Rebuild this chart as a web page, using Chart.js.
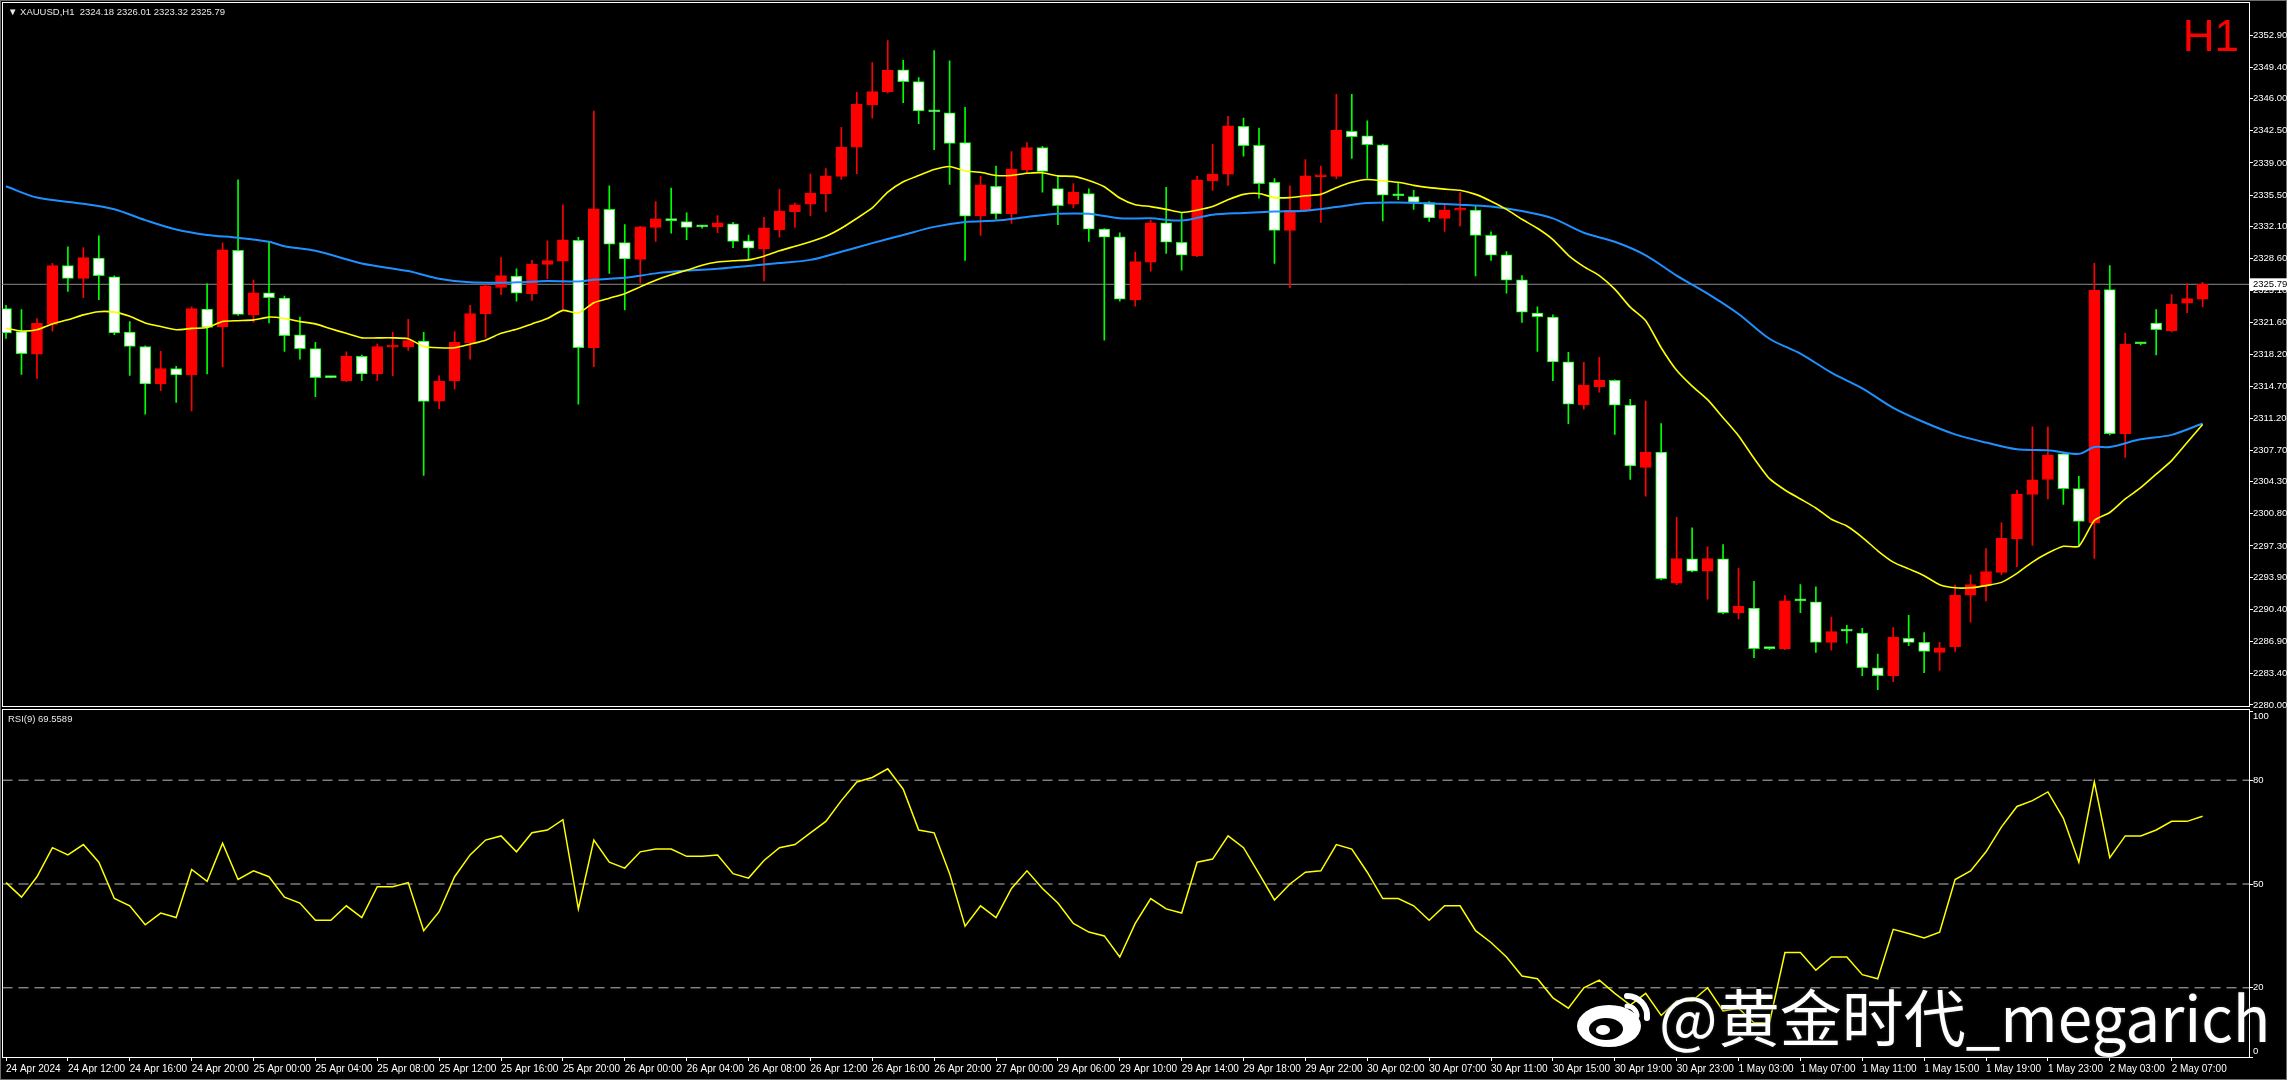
<!DOCTYPE html>
<html>
<head>
<meta charset="utf-8">
<script src="https://cdn.jsdelivr.net/npm/chart.js@4.4.1/dist/chart.umd.min.js"></script>
<style>
  html, body { margin: 0; padding: 0; background: #000; }
  body { width: 2287px; height: 1080px; position: relative; overflow: hidden; font-family: "Liberation Sans", Arial, sans-serif; }
  .box { position: absolute; }
  .frame { position: absolute; border: 1px solid #fff; box-sizing: border-box; pointer-events: none; }
  #hdr { position: absolute; left: 8px; top: 6px; color: #e8e8e8; font-size: 9.5px; white-space: pre; }
  #rsiLbl { position: absolute; left: 8px; top: 713px; color: #e8e8e8; font-size: 9.5px; white-space: pre; }
  #tf { position: absolute; right: 48px; top: 14px; color: #ff0000; font-size: 44px; line-height: 44px; }
  #wm { position: absolute; left: 1575px; top: 975px; color: #fff; font-family: "Noto Sans CJK SC", sans-serif; font-size: 62px; line-height: 80px; white-space: nowrap; text-shadow: 0 0 3px #333; }
  #wm svg { vertical-align: -6px; margin-right: 6px; }
</style>
</head>
<body>
<div class="frame" style="left:0;top:0;width:2287px;height:1080px;border-color:#6e6e6e;"></div>
<div class="frame" style="left:2px;top:2px;width:2248px;height:705px;"></div>
<div class="frame" style="left:2px;top:709px;width:2248px;height:349px;"></div>
<div class="box" style="left:0;top:0;width:2287px;height:712px;"><canvas id="mainChart"></canvas></div>
<div class="box" style="left:0;top:700px;width:2287px;height:380px;"><canvas id="rsiChart"></canvas></div>
<div id="hdr">▼ XAUUSD,H1  2324.18 2326.01 2323.32 2325.79</div>
<div id="rsiLbl">RSI(9) 69.5589</div>
<div id="tf">H1</div>
<div id="wm"><svg width="78" height="58" viewBox="0 0 78 58">
  <ellipse cx="34" cy="36" rx="32" ry="21" fill="#fff"/>
  <ellipse cx="31" cy="39" rx="17" ry="11" fill="#000"/>
  <ellipse cx="28" cy="40" rx="7" ry="5" fill="#fff"/>
  <path d="M52 6 A20 20 0 0 1 72 28" stroke="#fff" stroke-width="6" fill="none" stroke-linecap="round"/>
  <path d="M52 16 A10 10 0 0 1 62 26" stroke="#fff" stroke-width="5" fill="none" stroke-linecap="round"/>
</svg>@黄金时代_megarich</div>

<script>
// XAUUSD H1, 24 Apr 08:00 .. 2 May 09:00 (143 bars)
const opens = [2323.15,2320.65,2318.19,2321.43,2327.82,2326.44,2328.65,2326.59,2320.60,2319.02,2314.95,2316.62,2315.93,2323.10,2321.14,2329.48,2322.46,2324.87,2324.28,2320.30,
  2318.78,2315.63,2315.29,2317.94,2316.03,2318.95,2318.97,2319.61,2313.08,2315.29,2319.42,2322.56,2325.46,2326.69,2324.77,2327.96,2328.31,2330.57,2318.88,2333.95,
  2330.32,2328.50,2331.99,2332.73,2332.63,2332.04,2332.04,2332.38,2330.52,2329.68,2331.75,2333.71,2334.50,2335.67,2337.54,2340.73,2345.35,2346.72,2349.13,2347.85,
  2344.56,2344.47,2341.22,2333.27,2336.46,2333.46,2338.23,2340.68,2336.21,2334.50,2335.67,2331.79,2330.96,2324.08,2328.21,2332.48,2330.37,2328.90,2337.05,2337.79,
  2342.99,2340.93,2336.90,2331.65,2333.76,2337.50,2337.54,2342.45,2341.96,2340.98,2335.43,2335.33,2334.69,2332.97,2333.85,2333.86,2331.11,2329.00,2326.29,2322.66,
  2322.22,2317.35,2312.69,2314.65,2315.34,2312.64,2305.86,2307.53,2293.24,2295.89,2294.56,2295.89,2290.05,2290.54,2286.12,2286.12,2291.32,2291.22,2286.80,2288.03,
  2287.83,2284.05,2283.17,2287.25,2286.80,2285.72,2286.31,2291.96,2292.99,2294.42,2298.10,2302.91,2304.54,2307.33,2303.55,2299.82,2325.21,2309.54,2319.32,2321.58,
  2320.74,2323.74,2324.18];
const highs = [2323.50,2323.05,2322.07,2328.06,2329.88,2329.78,2331.06,2326.70,2321.73,2319.10,2318.48,2316.86,2323.35,2325.85,2330.27,2337.15,2326.24,2330.37,2324.52,2322.22,
  2319.47,2315.70,2318.43,2318.09,2319.27,2320.55,2321.97,2320.55,2315.83,2320.65,2323.49,2325.75,2328.70,2327.47,2328.41,2330.52,2334.45,2330.91,2344.66,2336.51,
  2332.29,2332.10,2334.79,2336.26,2333.56,2332.20,2333.27,2332.53,2331.16,2333.07,2336.12,2334.64,2337.79,2338.38,2342.89,2346.68,2349.92,2352.32,2350.16,2348.30,
  2351.24,2350.11,2345.06,2337.54,2338.67,2340.24,2341.22,2340.80,2337.64,2336.75,2336.17,2331.85,2331.40,2329.29,2332.78,2336.36,2333.61,2337.54,2341.03,2344.07,
  2343.88,2342.80,2337.30,2336.51,2339.36,2338.67,2346.48,2346.48,2343.58,2341.05,2336.80,2336.02,2334.80,2334.45,2335.77,2334.35,2331.50,2329.34,2326.74,2323.35,
  2322.46,2318.38,2317.30,2317.84,2315.40,2313.28,2313.08,2310.63,2300.41,2299.28,2297.22,2297.46,2294.86,2293.44,2286.20,2291.91,2293.09,2292.85,2289.55,2288.67,
  2288.33,2285.53,2288.43,2289.75,2287.88,2286.80,2293.04,2294.17,2297.02,2299.82,2303.40,2310.28,2310.28,2307.40,2304.88,2328.06,2327.82,2320.45,2319.40,2323.05,
  2324.67,2325.85,2326.01];
const lows = [2319.90,2315.98,2315.54,2320.69,2325.02,2324.33,2324.13,2320.30,2315.88,2311.66,2314.21,2312.93,2312.00,2316.03,2316.81,2322.40,2321.68,2321.58,2318.48,2317.65,
  2313.57,2315.60,2315.20,2315.29,2315.29,2315.83,2318.58,2304.98,2312.25,2314.41,2317.65,2320.01,2324.67,2323.94,2324.03,2326.39,2323.05,2312.74,2316.81,2326.98,
  2323.00,2325.95,2330.47,2331.35,2330.66,2331.90,2331.40,2329.78,2328.45,2326.15,2330.91,2331.99,2333.27,2333.71,2337.20,2337.84,2343.88,2346.63,2345.55,2343.29,
  2340.44,2336.66,2328.40,2331.11,2332.87,2332.43,2337.89,2335.82,2332.29,2334.10,2330.47,2319.71,2323.94,2323.40,2327.23,2329.14,2327.32,2328.80,2336.02,2336.56,
  2339.75,2335.18,2328.06,2325.41,2333.70,2332.53,2337.30,2339.50,2337.34,2332.68,2334.99,2333.95,2332.63,2331.55,2332.14,2326.69,2328.40,2324.82,2321.63,2318.48,
  2315.29,2310.63,2312.20,2314.06,2309.45,2304.54,2302.72,2293.60,2293.10,2294.47,2291.52,2289.90,2289.36,2285.14,2286.00,2286.00,2290.05,2285.72,2285.97,2286.71,
  2283.17,2281.65,2282.53,2286.46,2283.51,2283.76,2285.82,2289.01,2291.32,2294.17,2295.05,2297.36,2302.42,2301.83,2297.27,2295.94,2309.40,2306.94,2319.20,2318.09,
  2320.60,2322.71,2323.32];
const closes = [2320.50,2318.24,2321.53,2327.82,2326.44,2328.70,2326.74,2320.50,2319.02,2314.95,2316.62,2315.93,2323.15,2321.09,2329.53,2322.51,2324.87,2324.33,2320.20,2318.78,
  2315.63,2315.63,2317.94,2316.03,2319.02,2319.05,2319.66,2313.03,2315.24,2319.47,2322.61,2325.61,2326.74,2324.82,2327.96,2328.36,2330.62,2318.88,2334.00,2330.17,
  2328.55,2332.04,2332.92,2332.73,2331.99,2332.04,2332.48,2330.47,2329.73,2331.94,2333.76,2334.45,2335.72,2337.59,2340.73,2345.40,2346.77,2349.08,2347.85,2344.66,
  2344.56,2341.13,2333.22,2336.61,2333.46,2338.33,2340.68,2338.08,2334.35,2335.82,2331.79,2330.91,2324.18,2328.26,2332.48,2330.37,2328.95,2337.15,2337.79,2343.04,
  2340.88,2336.75,2331.65,2333.86,2337.59,2337.60,2342.55,2341.86,2340.98,2335.48,2335.43,2334.74,2333.02,2333.86,2333.95,2331.11,2328.95,2326.24,2322.76,2322.27,
  2317.35,2312.74,2314.80,2315.34,2312.64,2306.01,2307.53,2293.73,2295.94,2294.56,2295.94,2290.05,2290.73,2286.12,2286.12,2291.32,2291.32,2286.80,2287.98,2288.03,
  2284.05,2283.17,2287.39,2286.80,2285.82,2286.21,2291.96,2293.09,2294.51,2298.15,2302.96,2304.49,2307.19,2303.55,2299.97,2325.12,2309.54,2319.27,2319.32,2320.84,
  2323.64,2324.23,2325.79];

// yellow (fast) and blue (slow) moving averages as [bar, price]
const maFast = [[0,2321.00],[1,2320.70],[2,2320.84],[3,2321.48],[4,2321.92],[5,2322.46],[6,2322.81],[7,2322.76],[8,2322.31],[9,2321.58],[10,2321.19],[11,2320.84],
  [12,2320.99],[13,2321.09],[14,2321.73],[15,2321.83],[16,2321.92],[17,2322.22],[18,2322.07],[19,2321.73],[20,2321.48],[21,2320.94],[22,2320.45],[23,2319.96],
  [24,2319.96],[25,2319.96],[26,2319.86],[27,2319.02],[28,2318.88],[29,2318.88],[30,2319.27],[31,2319.71],[32,2320.45],[33,2320.89],[34,2321.48],[35,2322.07],
  [36,2322.95],[37,2322.66],[38,2323.79],[39,2324.28],[40,2324.77],[41,2325.51],[42,2326.24],[43,2326.83],[44,2327.32],[45,2327.86],[46,2328.21],[47,2328.36],
  [48,2328.45],[49,2328.85],[50,2329.44],[51,2329.93],[52,2330.42],[53,2331.01],[54,2331.89],[55,2332.97],[56,2334.10],[57,2335.82],[58,2336.95],[59,2337.64],
  [60,2338.28],[61,2338.62],[62,2338.13],[63,2337.98],[64,2337.64],[65,2337.64],[66,2337.88],[67,2337.93],[68,2337.59],[69,2337.54],[70,2337.10],[71,2336.41],
  [72,2335.18],[73,2334.45],[74,2334.25],[75,2333.95],[76,2333.61],[77,2333.86],[78,2334.25],[79,2334.99],[80,2335.58],[81,2335.67],[82,2335.23],[83,2335.23],
  [84,2335.43],[85,2335.58],[86,2336.31],[87,2336.90],[88,2337.20],[89,2337.05],[90,2336.90],[91,2336.56],[92,2336.31],[93,2336.15],[94,2336.02],[95,2335.58],
  [96,2334.84],[97,2333.95],[98,2332.87],[99,2331.89],[100,2330.66],[101,2328.95],[102,2327.72],[103,2326.74],[104,2325.26],[105,2323.30],[106,2321.83],[107,2318.88],
  [108,2316.42],[109,2314.70],[110,2313.23],[111,2311.27],[112,2309.30],[113,2306.85],[114,2304.63],[115,2303.40],[116,2302.42],[117,2301.44],[118,2300.21],[119,2299.48],
  [120,2298.25],[121,2296.78],[122,2295.55],[123,2294.81],[124,2294.07],[125,2293.09],[126,2292.75],[127,2292.75],[128,2292.99],[129,2293.34],[130,2294.32],[131,2295.55],
  [132,2296.53],[133,2297.27],[134,2297.27],[135,2300.07],[136,2300.95],[137,2302.42],[138,2303.65],[139,2305.12],[140,2306.60],[141,2308.56],[142,2310.53]];
const maSlow = [[0,2336.46],[2,2335.23],[5,2334.55],[7,2333.96],[9,2332.78],[11,2331.75],[13,2331.16],[15,2330.86],[17,2330.42],[18,2329.93],[20,2329.44],[23,2328.06],
  [26,2327.23],[28,2326.39],[30,2326.00],[33,2326.00],[35,2326.15],[37,2326.10],[38,2326.29],[40,2326.49],[42,2326.98],[44,2327.28],[46,2327.47],[48,2327.77],
  [50,2328.11],[52,2328.45],[54,2329.34],[56,2330.27],[58,2331.16],[60,2332.04],[62,2332.58],[64,2332.73],[66,2333.12],[68,2333.46],[70,2333.46],[72,2332.97],
  [74,2332.97],[76,2332.73],[78,2333.37],[80,2333.56],[82,2333.71],[84,2333.81],[86,2334.20],[88,2334.64],[90,2334.69],[92,2334.59],[94,2334.45],[96,2334.25],
  [98,2333.76],[100,2332.97],[102,2331.40],[104,2330.42],[106,2328.95],[108,2326.74],[110,2324.77],[112,2322.56],[114,2319.86],[116,2318.24],[118,2316.17],[120,2314.46],
  [122,2312.34],[124,2310.77],[126,2309.45],[128,2308.56],[130,2307.82],[132,2307.73],[134,2307.33],[135,2308.07],[136,2308.07],[138,2308.91],[140,2309.40],[142,2310.63]];

const rsiVals = [50.4,46.2,52.1,60.5,58.4,61.4,56.3,45.8,43.7,38.2,41.6,40.3,54.2,50.8,61.8,51.3,53.8,52.1,46.2,44.5,
  39.5,39.5,43.7,40.3,49.2,49.2,50.4,36.5,42.0,52.1,58.4,62.7,63.9,59.3,64.8,65.6,68.6,42.8,62.7,56.3,
  54.6,59.3,60.1,60.1,58.0,58.0,58.4,53.0,51.7,56.8,60.5,61.4,64.8,68.1,74.1,79.5,80.8,83.3,77.4,65.6,
  64.8,53.0,37.8,43.7,40.3,48.7,53.8,48.7,44.5,38.6,36.1,35.0,28.9,38.6,45.8,42.8,41.6,56.3,57.2,63.9,
  60.5,53.0,45.4,50.0,53.4,53.8,61.4,60.1,53.4,45.8,45.8,43.7,39.5,43.7,43.7,36.5,33.1,28.9,23.4,22.6,
  17.1,14.1,20.0,22.2,18.4,15.0,18.4,12.0,16.2,16.2,20.0,13.3,14.1,9.9,9.9,30.2,30.2,25.1,28.9,28.9,
  23.8,22.6,36.9,35.7,34.4,36.1,51.3,53.8,59.3,66.5,72.4,74.1,76.6,69.0,56.3,79.5,57.6,63.9,63.9,65.6,
  68.1,68.1,69.56];
const rsiLevels = [20, 50, 80];
const rsiTicks = [0, 20, 50, 80, 100];

const priceTicks = [2280.00,2283.40,2286.90,2290.40,2293.90,2297.30,2300.80,2304.30,2307.70,2311.20,2314.70,2318.20,2321.60,2325.10,
  2328.60,2332.10,2335.50,2339.00,2342.50,2346.00,2349.40,2352.90];
const timeLabels = ['24 Apr 2024','24 Apr 12:00','24 Apr 16:00','24 Apr 20:00','25 Apr 00:00','25 Apr 04:00','25 Apr 08:00','25 Apr 12:00',
  '25 Apr 16:00','25 Apr 20:00','26 Apr 00:00','26 Apr 04:00','26 Apr 08:00','26 Apr 12:00','26 Apr 16:00','26 Apr 20:00','27 Apr 00:00',
  '29 Apr 06:00','29 Apr 10:00','29 Apr 14:00','29 Apr 18:00','29 Apr 22:00','30 Apr 02:00','30 Apr 07:00','30 Apr 11:00','30 Apr 15:00',
  '30 Apr 19:00','30 Apr 23:00','1 May 03:00','1 May 07:00','1 May 11:00','1 May 15:00','1 May 19:00','1 May 23:00','2 May 03:00','2 May 07:00'];
const lastPrice = 2325.79;

const X_MIN = -0.26, X_MAX = 145.0;
const P_MIN = 2279.99, P_MAX = 2356.12;
const FONT = '"Liberation Sans", Arial, sans-serif';
const BULL = '#ff0000', BEAR = '#00ff00';

const isBull = i => closes[i] > opens[i];
const bars = closes.map((_, i) => i);

const rightAxis = (extra) => Object.assign({
  position: 'right',
  afterFit: s => { s.width = 38; },
  ticks: { color: '#fff', font: { size: 9.5, family: FONT }, padding: 0, autoSkip: false },
  grid: { drawOnChartArea: false, color: '#fff', tickLength: 4 },
  border: { display: true, color: '#fff' }
}, extra);

const priceTag = {
  id: 'priceTag',
  afterDraw(chart) {
    const y = chart.scales.y.getPixelForValue(lastPrice);
    const ctx = chart.ctx;
    ctx.save();
    ctx.fillStyle = '#fff';
    ctx.fillRect(chart.chartArea.right + 1, y - 6, 40, 12);
    ctx.fillStyle = '#000';
    ctx.font = '9.5px ' + FONT;
    ctx.textBaseline = 'middle';
    ctx.fillText(lastPrice.toFixed(2), chart.chartArea.right + 4, y + 0.5);
    ctx.restore();
  }
};

// MT4 keeps the 0 / 100 labels inside the panel
const edgeLabels = {
  id: 'edgeLabels',
  afterDraw(chart) {
    const s = chart.scales.y;
    const ctx = chart.ctx;
    ctx.save();
    ctx.fillStyle = '#fff';
    ctx.font = '9.5px ' + FONT;
    ctx.textBaseline = 'middle';
    ctx.fillText('100', s.left + 4, s.getPixelForValue(100) + 5);
    ctx.fillText('0', s.left + 4, s.getPixelForValue(0) - 6);
    ctx.restore();
  }
};

new Chart(document.getElementById('mainChart'), {
  data: {
    datasets: [
      {
        type: 'line', order: 6,
        data: [{ x: X_MIN - 1, y: lastPrice }, { x: X_MAX + 1, y: lastPrice }],
        borderColor: '#8a8a8a', borderWidth: 1, pointRadius: 0
      },
      {
        type: 'bar', order: 4, grouped: false,
        data: bars.map(i => ({ x: i, y: [lows[i], highs[i]] })),
        backgroundColor: bars.map(i => isBull(i) ? BULL : BEAR),
        borderWidth: 0, barThickness: 1, minBarLength: 1
      },
      {
        type: 'bar', order: 2, grouped: false,
        data: bars.map(i => ({ x: i, y: [opens[i], closes[i]] })),
        backgroundColor: bars.map(i => isBull(i) ? BULL : '#ffffff'),
        borderColor: bars.map(i => isBull(i) ? BULL : BEAR),
        borderWidth: 1, borderSkipped: false, barThickness: 11, minBarLength: 2
      },
      {
        type: 'line', order: 1,
        data: maSlow.map(p => ({ x: p[0], y: p[1] })),
        borderColor: '#1e90ff', borderWidth: 2, pointRadius: 0, tension: 0.3
      },
      {
        type: 'line', order: 0,
        data: maFast.map(p => ({ x: p[0], y: p[1] })),
        borderColor: '#ffff00', borderWidth: 1.6, pointRadius: 0, tension: 0.2
      }
    ]
  },
  options: {
    responsive: true, maintainAspectRatio: false, animation: false,
    layout: { padding: { left: 2, top: 3, bottom: 7, right: 0 } },
    plugins: { legend: { display: false }, tooltip: { enabled: false } },
    scales: {
      x: { type: 'linear', min: X_MIN, max: X_MAX, offset: false, display: false },
      y: rightAxis({
        min: P_MIN, max: P_MAX,
        afterBuildTicks: s => { s.ticks = priceTicks.map(v => ({ value: v })); },
        ticks: { color: '#fff', font: { size: 9.5, family: FONT }, padding: 0, autoSkip: false, callback: v => v.toFixed(2) }
      })
    }
  },
  plugins: [priceTag]
});

new Chart(document.getElementById('rsiChart'), {
  data: {
    datasets: rsiLevels.map(lv => ({
      type: 'line', order: 2,
      data: [{ x: X_MIN - 1, y: lv }, { x: X_MAX + 1, y: lv }],
      borderColor: '#bdbdbd', borderWidth: 1, borderDash: [10, 6], pointRadius: 0
    })).concat([{
      type: 'line', order: 0,
      data: rsiVals.map((v, i) => ({ x: i, y: v })),
      borderColor: '#ffff00', borderWidth: 1.5, pointRadius: 0, tension: 0
    }])
  },
  options: {
    responsive: true, maintainAspectRatio: false, animation: false,
    layout: { padding: { left: 2, top: 11, bottom: 0, right: 0 } },
    plugins: { legend: { display: false }, tooltip: { enabled: false } },
    scales: {
      x: {
        type: 'linear', min: X_MIN, max: X_MAX, offset: false,
        afterFit: s => { s.height = 23; },
        afterBuildTicks: s => { s.ticks = timeLabels.map((_, k) => ({ value: k * 4 })); },
        ticks: {
          color: '#fff', font: { size: 10, family: FONT }, align: 'start', maxRotation: 0,
          autoSkip: false, padding: 2, callback: (v, k) => timeLabels[k]
        },
        grid: { drawOnChartArea: false, color: '#fff', tickLength: 4 },
        border: { display: true, color: '#fff' }
      },
      y: rightAxis({
        min: 0, max: 100,
        afterBuildTicks: s => { s.ticks = rsiTicks.map(v => ({ value: v })); },
        ticks: {
          color: '#fff', font: { size: 9.5, family: FONT }, padding: 0, autoSkip: false,
          callback: v => (v === 0 || v === 100) ? '' : String(v)
        }
      })
    }
  },
  plugins: [edgeLabels]
});
</script>
</body>
</html>
